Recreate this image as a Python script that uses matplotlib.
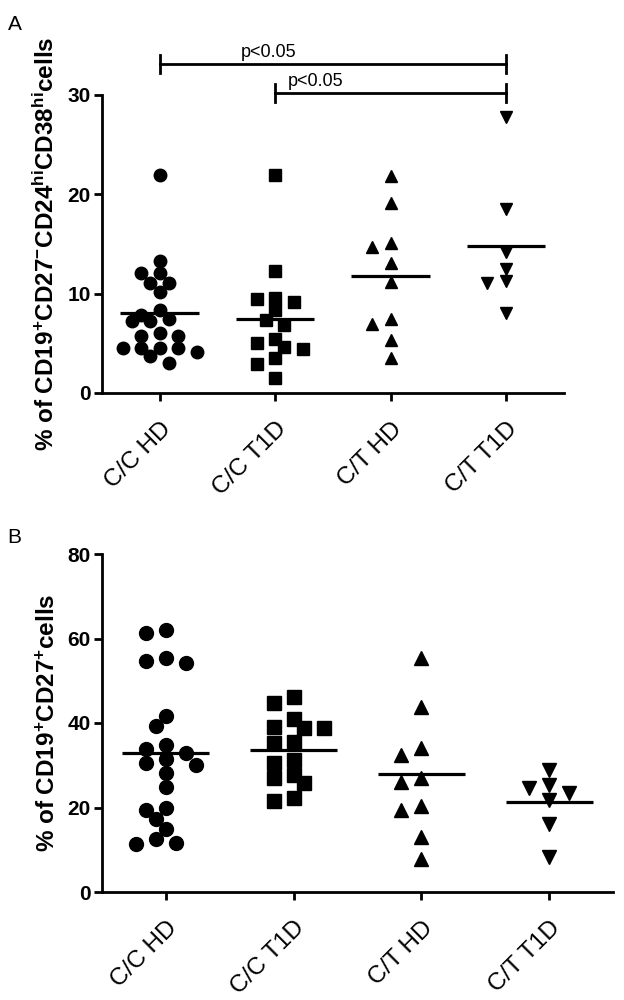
import numpy as np
import matplotlib
matplotlib.use("Agg")
import matplotlib.pyplot as plt

plt.rcParams['font.family'] = ['Liberation Sans', 'DejaVu Sans']
plt.rcParams['mathtext.fontset'] = 'custom'
plt.rcParams['mathtext.rm'] = 'Liberation Sans:bold'
plt.rcParams['mathtext.it'] = 'Liberation Sans:bold'
plt.rcParams['mathtext.bf'] = 'Liberation Sans:bold'
plt.rcParams['mathtext.default'] = 'rm'

# ---- data ----
groups = ['C/C HD', 'C/C T1D', 'C/T HD', 'C/T T1D']
markers = ['o', 's', '^', 'v']

# panel A: % of CD19+CD27-CD24hiCD38hi cells
a_cc_hd = [21.9, 13.3, 12.1, 12.1, 11.05, 11.1, 10.2, 8.4, 7.9, 7.2, 7.2, 7.5,
           5.7, 5.7, 6.0, 4.5, 4.5, 4.5, 4.5, 4.1, 3.7, 3.05]
a_cc_t1d = [21.95, 12.3, 9.6, 9.2, 9.5, 8.4, 7.35, 6.85, 5.4, 5.0, 4.4, 4.65,
            3.5, 2.9, 1.5]
a_ct_hd = [21.8, 19.15, 14.7, 15.1, 13.05, 11.2, 7.4, 6.9, 5.35, 3.5]
a_ct_t1d = [27.8, 18.5, 14.2, 12.5, 11.3, 11.05, 8.1]

# panel B: % of CD19+CD27+ cells
b_cc_hd = [62.0, 61.2, 55.3, 54.1, 54.7, 41.7, 39.3, 34.8, 33.0, 33.8, 30.6,
           30.1, 31.4, 28.1, 24.9, 19.4, 19.8, 17.3, 14.9, 12.5, 11.3, 11.5]
b_cc_t1d = [46.1, 44.8, 40.9, 38.7, 39.0, 38.7, 35.6, 35.2, 31.2, 30.5, 27.7,
            27.1, 25.7, 21.5, 22.2]
b_ct_hd = [55.3, 43.7, 34.2, 32.4, 26.9, 26.1, 20.4, 19.4, 12.9, 7.7]
b_ct_t1d = [28.9, 24.5, 25.3, 23.4, 21.8, 16.1, 8.4]

# significance brackets in panel A (group i, group j, label)
comparisons = [(0, 3, 'p<0.05'), (1, 3, 'p<0.05')]


def swarm_x(ax, x0, vals, diam, step):
    """simple beeswarm: shift points sideways (in pixels) until they don't overlap"""
    vals = np.asarray(vals, float)
    pts = ax.transData.transform(np.column_stack([np.full(len(vals), x0), vals]))
    placed = []
    out = np.empty(len(vals))
    for i in np.argsort(-vals, kind='stable'):
        px, py = pts[i]
        for k in [0, -1, 1, -2, 2, -3, 3, -4, 4, -5, 5]:
            cx = px + k * step
            if all(np.hypot(cx - qx, py - qy) >= diam for qx, qy in placed):
                break
        placed.append((cx, py))
        out[i] = cx
    inv = ax.transData.inverted()
    return inv.transform(np.column_stack([out, pts[:, 1]]))[:, 0]


def dot_panel(ax, data, ylim, yticks, ms, diam, step):
    ax.set_xlim(-0.5, 3.5)
    ax.set_ylim(*ylim)
    for i, vals in enumerate(data):
        xs = swarm_x(ax, i, vals, diam, step)
        ax.plot(xs, vals, linestyle='none', marker=markers[i], ms=ms,
                color='black', clip_on=False, zorder=3)
        ax.hlines(np.mean(vals), i - 0.34, i + 0.34, color='black', lw=2.3, zorder=4)
    for s in ['top', 'right']:
        ax.spines[s].set_visible(False)
    for s in ['left', 'bottom']:
        ax.spines[s].set_linewidth(2.0)
    ax.set_yticks(yticks)
    ax.set_yticklabels([str(t) for t in yticks], fontsize=15, fontweight='bold')
    ax.set_xticks(range(len(groups)))
    ax.set_xticklabels(groups, fontsize=17.5, rotation=45, ha='right',
                       rotation_mode='anchor')
    ax.tick_params(direction='out', length=6, width=2, pad=2)
    ax.tick_params(axis='x', pad=12)


fig = plt.figure(figsize=(6.24, 10), dpi=100)

axA = fig.add_axes([0.1635, 0.607, 0.740, 0.298])
dot_panel(axA, [a_cc_hd, a_cc_t1d, a_ct_hd, a_ct_t1d], (0, 30), [0, 10, 20, 30],
          ms=9.0, diam=11.5, step=9.3)
axA.set_ylabel(r'% of CD19$^{+}$CD27$^{-}$CD24$^{hi}$CD38$^{hi}$cells',
               fontsize=17.5, fontweight='bold', labelpad=6)

# brackets
bracket_y = [33.1, 30.2]
text_x = [0.94, 1.35]
for (i, j, lab), by, tx in zip(comparisons, bracket_y, text_x):
    axA.plot([i, j], [by, by], color='black', lw=2, clip_on=False)
    for c in (i, j):
        axA.plot([c, c], [by - 0.9, by + 0.9], color='black', lw=2, clip_on=False)
    axA.text(tx, by + 0.35, lab, fontsize=13, ha='center', va='bottom')

axB = fig.add_axes([0.1635, 0.108, 0.819, 0.338])
dot_panel(axB, [b_cc_hd, b_cc_t1d, b_ct_hd, b_ct_t1d], (0, 80), [0, 20, 40, 60, 80],
          ms=10.0, diam=13.0, step=10.0)
axB.set_ylabel(r'% of CD19$^{+}$CD27$^{+}$cells', fontsize=17.5,
               fontweight='bold', labelpad=6)

fig.text(0.012, 0.985, 'A', fontsize=15, va='top')
fig.text(0.012, 0.472, 'B', fontsize=15, va='top')

fig.savefig('out.png', dpi=100)
